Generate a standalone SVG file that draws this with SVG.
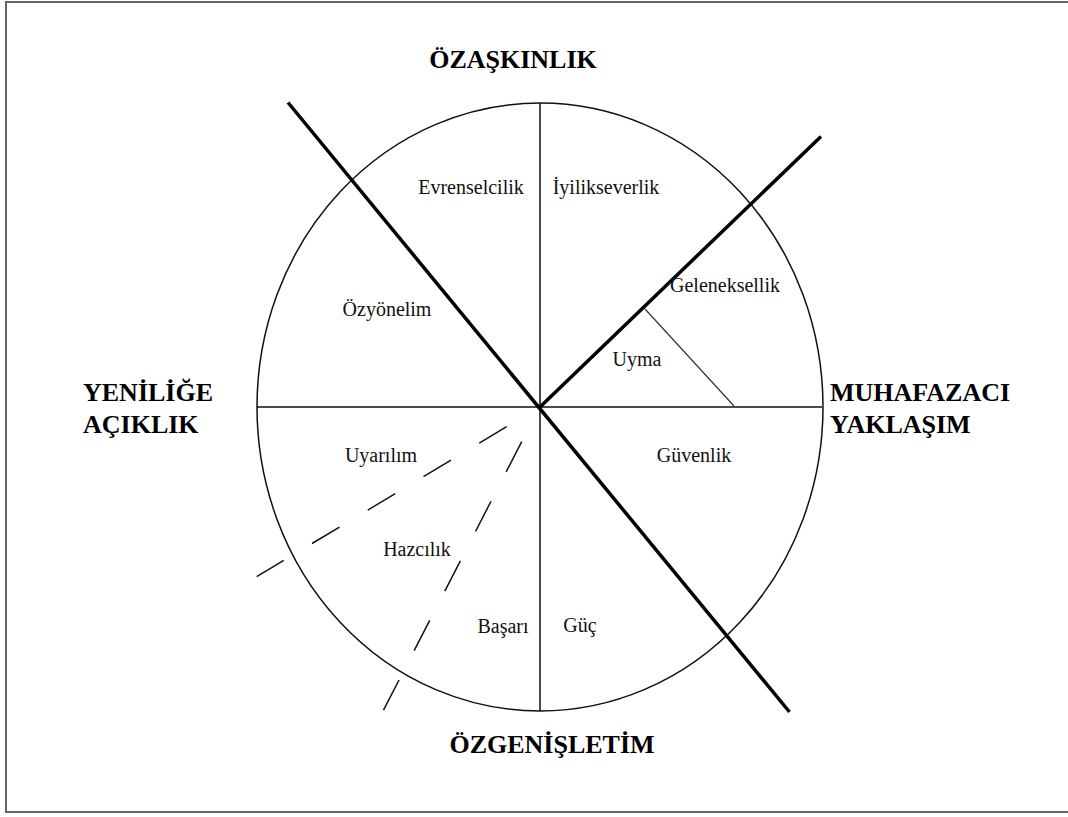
<svg xmlns="http://www.w3.org/2000/svg" width="1068" height="817" viewBox="0 0 1068 817">
<style>
.frame{fill:none;stroke:#666;stroke-width:2}
.thin{fill:none;stroke:#111;stroke-width:1.5}
.hair{fill:none;stroke:#333;stroke-width:1.2}
.thick{fill:none;stroke:#000;stroke-width:3.5}
.dash1{fill:none;stroke:#111;stroke-width:1.5;stroke-dasharray:32 33}
.dash2{fill:none;stroke:#111;stroke-width:1.5;stroke-dasharray:34 33}
.lbl{font-family:"Liberation Serif","Times New Roman",serif;font-size:20px;fill:#111}
.ttl{font-family:"Liberation Serif","Times New Roman",serif;font-size:26px;font-weight:bold;fill:#000}
</style>
<rect width="1068" height="817" fill="#fff"/>
<rect class="frame" x="6" y="2" width="1080" height="810"/>
<g id="connectors">
<ellipse class="thin" cx="540" cy="407" rx="283" ry="304"/>
<line class="thin" x1="540" y1="103" x2="540" y2="711"/>
<line class="thin" x1="257" y1="407" x2="822" y2="407"/>
<line class="hair" x1="645" y1="309" x2="734" y2="406"/>
<line class="thick" x1="288" y1="102.5" x2="789.5" y2="712"/>
<line class="thick" x1="540" y1="407" x2="821" y2="136.5"/>
<line class="dash1" x1="506.7" y1="426.7" x2="256.7" y2="576.7"/>
<line class="dash2" x1="521.7" y1="441.7" x2="382.7" y2="711.7"/>
</g>
<g id="title-top"><text class="ttl" x="513" y="68" text-anchor="middle">ÖZAŞKINLIK</text></g>
<g id="title-left"><text class="ttl" x="83" y="401">YENİLİĞE</text><text class="ttl" x="83" y="433">AÇIKLIK</text></g>
<g id="title-right"><text class="ttl" x="830" y="401">MUHAFAZACI</text><text class="ttl" x="830" y="433">YAKLAŞIM</text></g>
<g id="title-bottom"><text class="ttl" x="552" y="753" text-anchor="middle">ÖZGENİŞLETİM</text></g>
<g id="evrenselcilik"><text class="lbl" x="471" y="194" text-anchor="middle">Evrenselcilik</text></g>
<g id="iyilikseverlik"><text class="lbl" x="606" y="194" text-anchor="middle">İyilikseverlik</text></g>
<g id="geleneksellik"><text class="lbl" x="725" y="292" text-anchor="middle">Geleneksellik</text></g>
<g id="uyma"><text class="lbl" x="637" y="366" text-anchor="middle">Uyma</text></g>
<g id="ozyonelim"><text class="lbl" x="387" y="316" text-anchor="middle">Özyönelim</text></g>
<g id="uyarilim"><text class="lbl" x="381" y="462" text-anchor="middle">Uyarılım</text></g>
<g id="hazcilik"><text class="lbl" x="417" y="556" text-anchor="middle">Hazcılık</text></g>
<g id="basari"><text class="lbl" x="503" y="633" text-anchor="middle">Başarı</text></g>
<g id="guc"><text class="lbl" x="580" y="632" text-anchor="middle">Güç</text></g>
<g id="guvenlik"><text class="lbl" x="694" y="462" text-anchor="middle">Güvenlik</text></g>
</svg>
